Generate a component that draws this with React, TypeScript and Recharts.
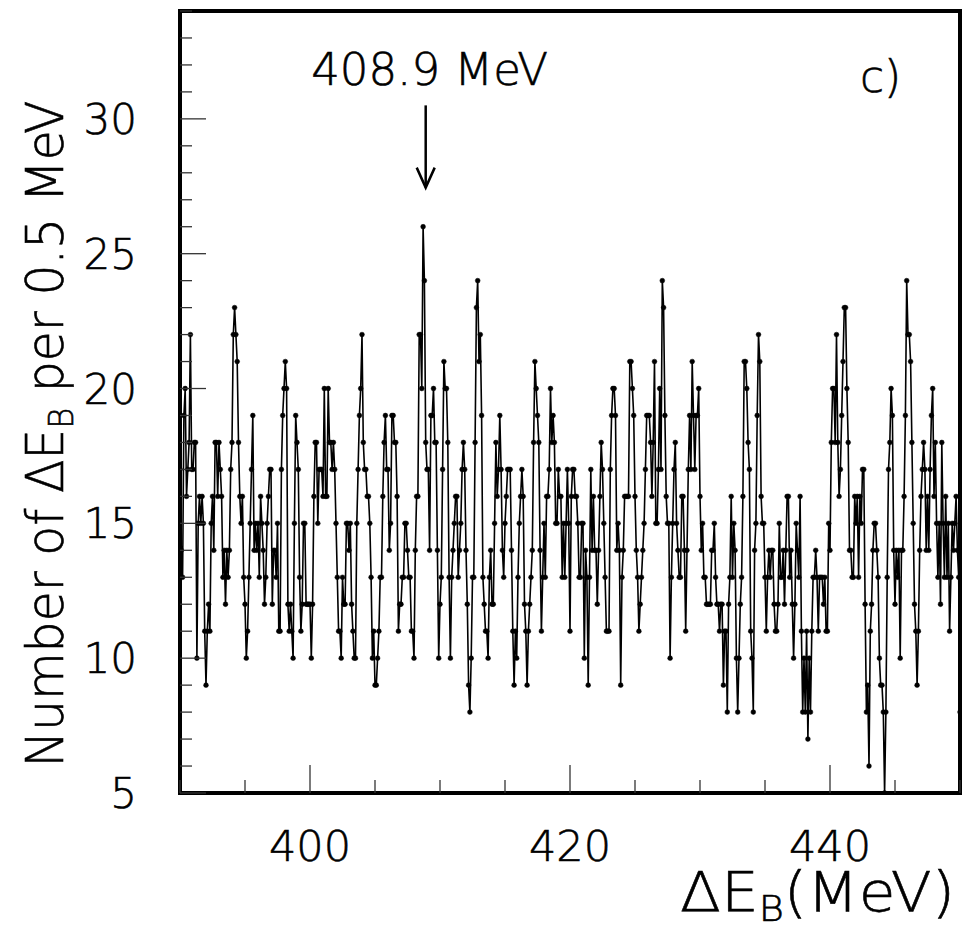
import { LineChart, Line, XAxis, YAxis, ReferenceArea, ReferenceLine, ReferenceDot } from 'recharts';

// histogram of Delta E_B, one value every 0.1 MeV starting at 390 MeV
const binStart = 390;
const binWidth = 0.1;

const counts390 = [17,14,13,19,20,16,17,18,22,17,17,18,18,10,15,16,15,16,15,11,9,11,12,11,15,16,14,18,18,16,18,17,16,13,14,12,14,13,14,17,18,22,23,22,21,18,16,15,16,13,12,10,11,13,15,17,19,14];
const counts396 = [15,14,15,13,16,15,14,12,13,15,16,17,17,12,14,14,13,15,11,11,17,19,20,21,20,12,11,12,11,10,15,19,18,17,13,11,12,15,15,12,12,12,12,10,12,16,18,18,15,17,17,17,16,20,16,16,20,18,18,17];
const counts402 = [18,17,15,13,11,11,10,13,12,12,15,15,14,15,12,11,10,10,15,17,19,20,22,18,17,17,16,16,15,13,10,11,9,9,10,11,13,13,16,18,19,17,17,14,15,19,19,18,18,16,11,12,12,13,13,15,15,14,13,13,11];
const counts408 = [11,10,14,16,16,22,22,20,26,24,18,17,17,14,19,19,20,18,18,14,10,12,13,17,21,20,20,18,13,10,13,14,15,16,16,13,14,15,17,18,17,14,12,9,8,10,13,13,18,23,24,21,22,19,13,12,11,11,10,13];
const counts414 = [14,12,12,15,18,16,17,19,17,14,13,15,16,17,17,17,14,11,9,11,10,13,15,16,17,16,12,11,9,11,12,13,14,18,21,20,19,18,14,11,13,15,13,16,16,17,20,18,19,18,15,15,17,16,16,13,15,13,15,17];
const counts420 = [15,11,16,17,17,16,16,15,13,13,15,15,10,14,13,9,13,17,14,16,14,14,12,14,16,18,17,15,13,11,11,11,17,19,20,20,19,14,15,14,9,13,14,16,16,16,16,21,21,20,19,16,14,13,11,12,13,14,15,17];
const counts426 = [19,19,19,18,16,18,21,15,15,17,20,17,24,23,19,16,15,15,10,13,15,17,18,15,14,13,13,16,16,14,11,14,17,19,17,21,19,17,19,19,20,16,14,15,13,13,12,12,12,12,14,14,15,13,12,12,11,12,12,9,11];
const counts432 = [11,8,12,13,16,13,15,14,10,8,10,12,13,16,21,21,20,18,17,11,10,8,14,15,19,22,21,16,15,15,13,11,13,14,13,14,14,12,11,11,12,15,13,13,14,12,14,16,16,13,14,12,10,12,15,14,13,16,11,8];
const counts438 = [10,8,11,7,10,8,11,13,13,14,13,11,13,13,13,12,13,11,11,15,14,18,20,20,18,22,18,16,17,19,21,23,23,20,18,14,14,13,13,16,15,16,13,16,15,17,17,12,8,9,6,11,12,14,15,15,14,13,10,9];
const counts444 = [9,8,5,8,13,17,18,20,19,14,12,14,13,14,10,14,14,16,19,24,22,22,21,18,15,12,11,9,11,14,16,17,18,17,14,16,14,17,19,20,16,18,15,13,15,12,18,15,13,16,13,15,11,13,15,14,15,16,14,13,8];

const counts = [
  ...counts390, ...counts396, ...counts402, ...counts408, ...counts414,
  ...counts420, ...counts426, ...counts432, ...counts438, ...counts444,
];

const xTicks = [390, 395, 400, 405, 410, 415, 420, 425, 430, 435, 440, 445, 450];
const xLabelled = [400, 420, 440];
const yTicks = [5, 6, 7, 8, 9, 10, 11, 12, 13, 14, 15, 16, 17, 18, 19, 20, 21, 22, 23, 24, 25, 26, 27, 28, 29, 30, 31, 32, 33, 34];
const yLabelled = [5, 10, 15, 20, 25, 30];

const peakEnergy = 408.9;
const peakText = '408.9 MeV';
const panelText = 'c)';

const data = counts.map((n, i) => ({ e: +(binStart + i * binWidth).toFixed(1), n }));

const FONT = "'DejaVu Sans', 'Liberation Sans', sans-serif";
// thin font, thickened a little with an outline
const textStyle = { fontWeight: 200, fontFamily: FONT, fill: '#000', stroke: '#000', strokeWidth: 0.6 };

const XTick = (props: any) => {
  const { x, y, payload } = props;
  const major = xLabelled.includes(payload.value);
  return (
    <g>
      <line x1={x} x2={x} y1={y} y2={y - (major ? 28 : 13)} stroke="#333" strokeWidth={1.3} />
      {major && (
        <text x={x} y={y + 68} textAnchor="middle" fontSize={43} {...textStyle}>
          {payload.value}
        </text>
      )}
    </g>
  );
};

const YTick = (props: any) => {
  const { x, y, payload } = props;
  const major = yLabelled.includes(payload.value);
  return (
    <g>
      <line x1={x} x2={x + (major ? 26 : 12)} y1={y} y2={y} stroke="#333" strokeWidth={1.3} />
      {major && (
        <text x={x - 43} y={y + 15} textAnchor="end" fontSize={42} {...textStyle}>
          {payload.value}
        </text>
      )}
    </g>
  );
};

const YTitle = (props: any) => {
  const vb = props.viewBox;
  const cx = vb.x + 63;
  const cy = vb.y + vb.height / 2 + 32;
  return (
    <text
      x={cx}
      y={cy}
      transform={`rotate(-90, ${cx}, ${cy})`}
      textAnchor="middle"
      fontSize={52}
      {...textStyle}
      textLength={667}
      lengthAdjust="spacingAndGlyphs"
    >
      Number of ΔE<tspan dy={10} fontSize={34}>B</tspan>
      <tspan dy={-10}> per 0.5 MeV</tspan>
    </text>
  );
};

const XTitle = (props: any) => {
  const vb = props.viewBox;
  return (
    <text
      x={vb.x + vb.width - 5}
      y={vb.y + 118}
      textAnchor="end"
      fontSize={56}
      {...textStyle}
      textLength={275}
      lengthAdjust="spacingAndGlyphs"
    >
      ΔE<tspan dy={10} fontSize={36}>B</tspan>
      <tspan dy={-10}>(MeV)</tspan>
    </text>
  );
};

// arrow pointing at the peak, with its caption
const PeakArrow = (props: any) => {
  const { x1, y1, x2, y2 } = props;
  return (
    <g>
      <line x1={x1} y1={y1} x2={x2} y2={y2} stroke="#000" strokeWidth={2.5} />
      <polyline
        points={`${x1 - 9},${y1 - 20} ${x1},${y1} ${x1 + 9},${y1 - 20}`}
        fill="none"
        stroke="#000"
        strokeWidth={2.5}
      />
      <text x={x2 + 4} y={y2 - 20} textAnchor="middle" fontSize={45} {...textStyle}>
        {peakText}
      </text>
    </g>
  );
};

const PanelTag = (props: any) => (
  <text x={props.cx} y={props.cy} textAnchor="start" fontSize={44} {...textStyle}>
    {panelText}
  </text>
);

export default function App() {
  return (
    <div style={{ position: 'absolute', left: 0, top: 0, background: '#fff' }}>
      <LineChart width={967} height={938} data={data} margin={{ top: 11, right: 7, bottom: 0, left: 0 }}>
        <XAxis
          dataKey="e"
          type="number"
          domain={[390, 450]}
          ticks={xTicks}
          interval={0}
          axisLine={false}
          tickLine={false}
          tickSize={0}
          tickMargin={0}
          tick={<XTick />}
          height={145}
          label={(p: any) => <XTitle {...p} />}
          allowDataOverflow
        />
        <YAxis
          type="number"
          domain={[5, 34]}
          ticks={yTicks}
          interval={0}
          axisLine={false}
          tickLine={false}
          tickSize={0}
          tickMargin={0}
          tick={<YTick />}
          width={180}
          label={(p: any) => <YTitle {...p} />}
          allowDataOverflow
        />
        <Line
          type="linear"
          dataKey="n"
          stroke="#000"
          strokeWidth={1.6}
          dot={{ r: 2.4, fill: '#000', stroke: '#000', strokeWidth: 0.5 }}
          isAnimationActive={false}
        />
        <ReferenceLine
          segment={[{ x: peakEnergy, y: 27.45 }, { x: peakEnergy, y: 30.5 }]}
          shape={(p: any) => <PeakArrow {...p} />}
          ifOverflow="visible"
        />
        <ReferenceDot x={442.3} y={31} r={0} shape={(p: any) => <PanelTag {...p} />} ifOverflow="visible" />
        <ReferenceArea x1={390} x2={450} y1={5} y2={34} fill="none" stroke="#000" strokeWidth={4} ifOverflow="visible" />
      </LineChart>
    </div>
  );
}
